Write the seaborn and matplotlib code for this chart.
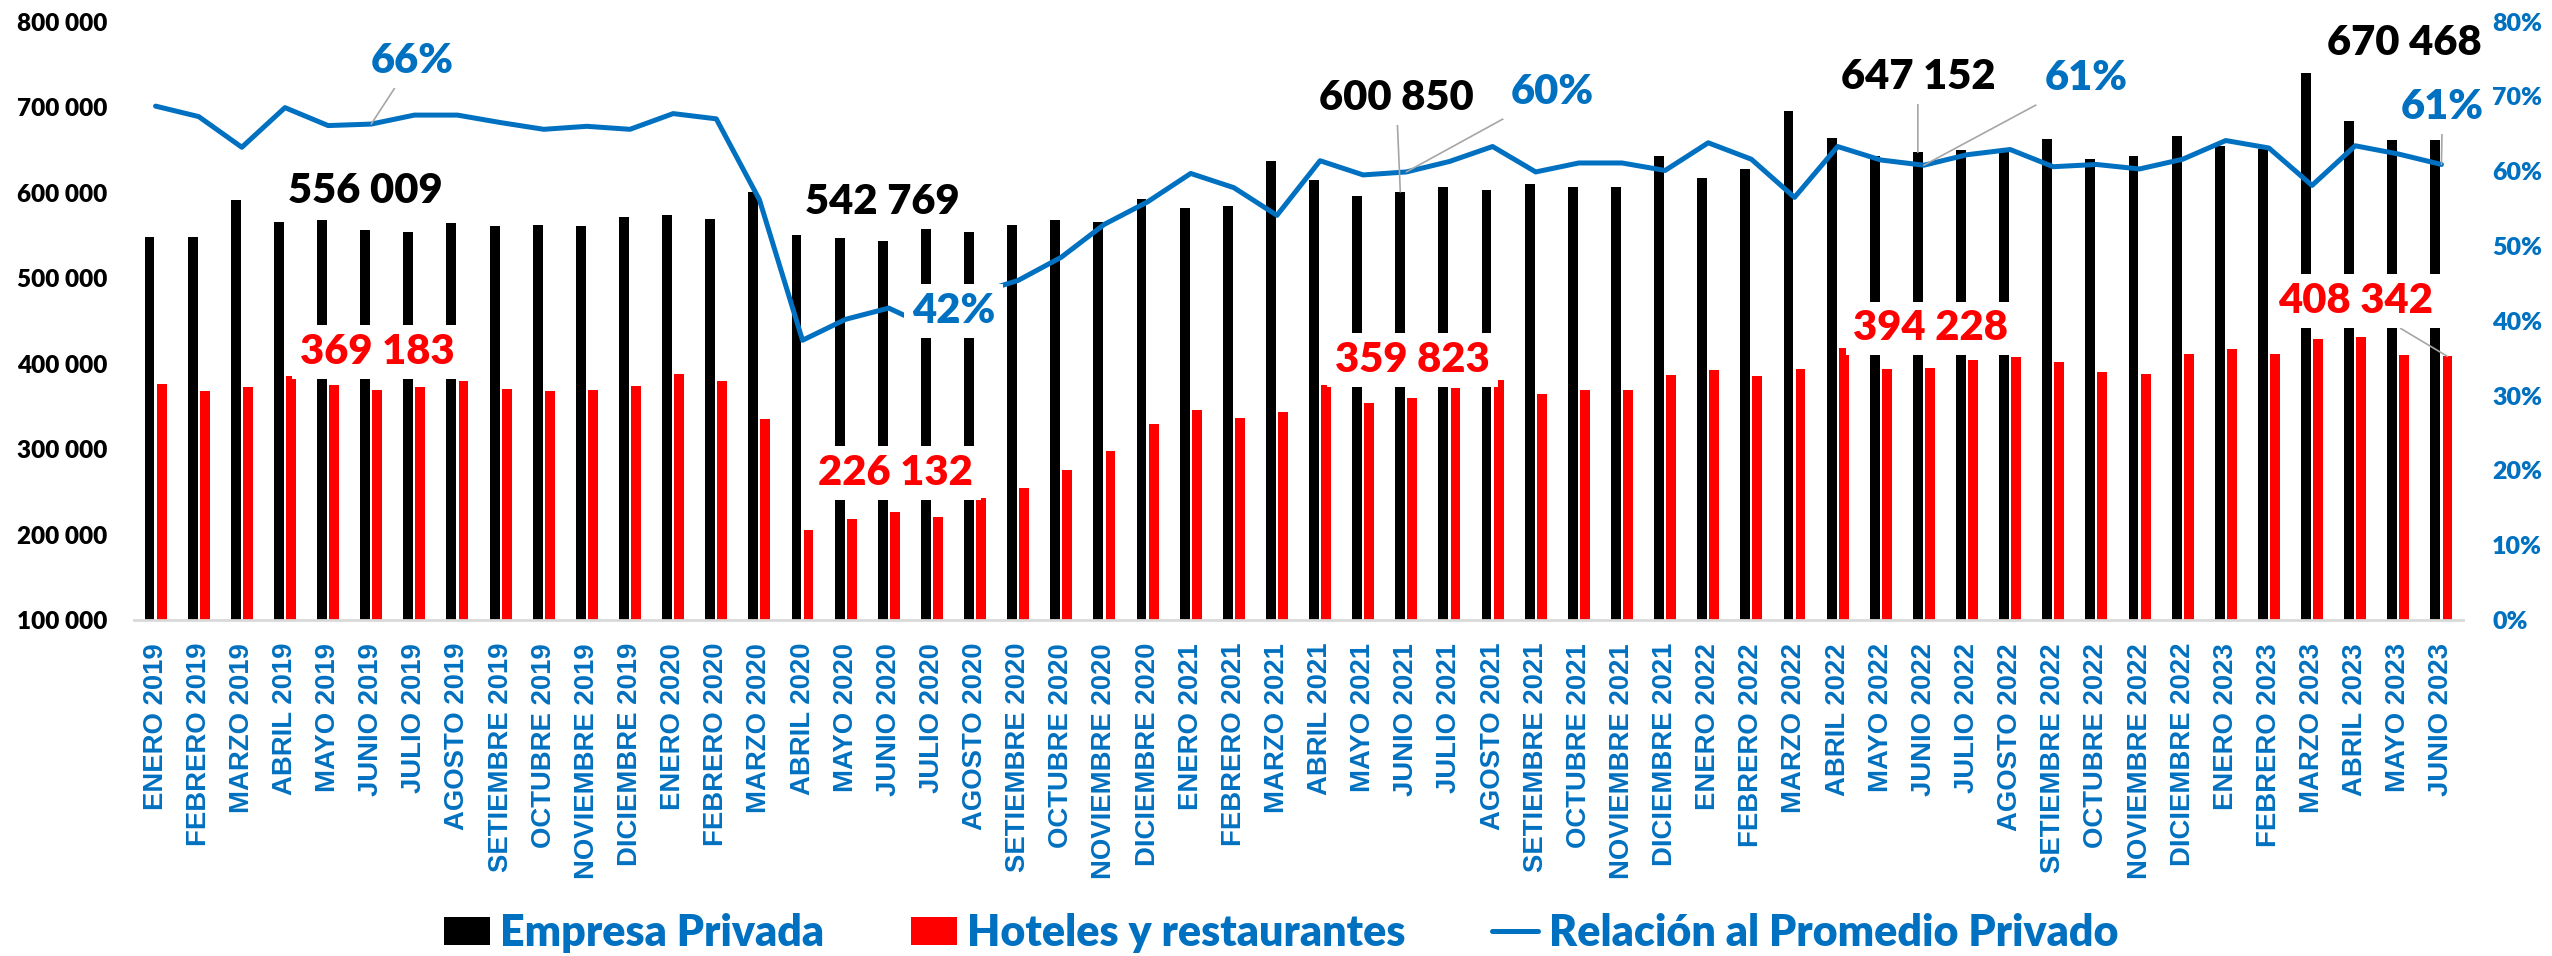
import numpy as np
import pandas as pd
import matplotlib
matplotlib.use("Agg")
import matplotlib.pyplot as plt
from matplotlib import font_manager as fm
from matplotlib.patches import Patch
from matplotlib.lines import Line2D
import seaborn as sns

# ---------------- data ----------------
meses_nombres = ["ENERO", "FEBRERO", "MARZO", "ABRIL", "MAYO", "JUNIO", "JULIO",
                 "AGOSTO", "SETIEMBRE", "OCTUBRE", "NOVIEMBRE", "DICIEMBRE"]
meses = [f"{m} {a}" for a in (2019, 2020, 2021, 2022) for m in meses_nombres] + \
        [f"{m} 2023" for m in meses_nombres[:6]]

empresa_privada = [
    547600, 547600, 590800, 565300, 568400, 556009, 553800, 564400, 561300, 562200, 561300, 571400,
    574100, 569200, 600500, 550300, 547200, 542769, 557300, 553800, 562600, 567900, 565300, 592100,
    581600, 584200, 636600, 614200, 595700, 600850, 606700, 603200, 610200, 606700, 606700, 642800,
    616800, 627400, 695700, 663900, 642400, 647152, 650300, 651200, 662600, 639700, 643200, 666100,
    654300, 650700, 739700, 683500, 661900, 661900,
]
hoteles_restaurantes = [
    375800, 367400, 372700, 385900, 374900, 369183, 372700, 379300, 370500, 367900, 369600, 374000,
    387200, 379800, 334800, 205700, 217600, 226132, 220300, 242700, 254600, 274900, 297400, 329100,
    345800, 336600, 343600, 375400, 353300, 359823, 371500, 380600, 364300, 369600, 369200, 386800,
    392500, 385500, 393900, 418100, 393900, 394228, 404500, 407500, 401350, 389900, 387250, 410600,
    416800, 410600, 429100, 430900, 410500, 408342,
]
relacion_pct = [
    68.7, 67.3, 63.2, 68.5, 66.1, 66.3, 67.5, 67.5, 66.5, 65.6, 66.0, 65.6,
    67.7, 67.0, 56.2, 37.4, 40.2, 41.7, 39.0, 43.6, 45.4, 48.5, 52.9, 55.9,
    59.7, 57.8, 54.1, 61.4, 59.5, 59.9, 61.3, 63.3, 59.9, 61.1, 61.1, 60.1,
    63.8, 61.6, 56.5, 63.3, 61.5, 60.8, 62.2, 62.9, 60.6, 60.9, 60.3, 61.6,
    64.1, 63.1, 58.1, 63.4, 62.3, 60.9,
]
# labelled months (JUNIO of each year) and their label texts
idx_etiquetas = [5, 17, 29, 41, 53]
etiquetas_empresa = ["556 009", "542 769", "600 850", "647 152", "670 468"]
etiquetas_hoteles = ["369 183", "226 132", "359 823", "394 228", "408 342"]
etiquetas_relacion = ["66%", "42%", "60%", "61%", "61%"]

series = ["Empresa Privada", "Hoteles y restaurantes", "Relación al Promedio Privado"]
y_ticks_left = list(range(100000, 800001, 100000))
y_ticks_right = list(range(0, 81, 10))

# ---------------- style ----------------
BLACK, RED, BLUE, GRAY = "#000000", "#FF0000", "#0070C0", "#A6A6A6"

sns.set_style("white")
names = {f.name for f in fm.fontManager.ttflist}
MAIN = "Lato" if "Lato" in names else "Open Sans"
TICKF = "Liberation Sans" if "Liberation Sans" in names else "DejaVu Sans"
plt.rcParams["font.family"] = [MAIN, "DejaVu Sans"]

W, H = 2552, 956
fig = plt.figure(figsize=(W / 100, H / 100), dpi=100)
ax_l, ax_r, ax_t, ax_b = 134, 2463, 21.6, 620
ax = fig.add_axes([ax_l / W, 1 - ax_b / H, (ax_r - ax_l) / W, (ax_b - ax_t) / H])

df = pd.DataFrame({
    "mes": meses * 2,
    "valor": empresa_privada + hoteles_restaurantes,
    "serie": [series[0]] * len(meses) + [series[1]] * len(meses),
})
sns.barplot(data=df, x="mes", y="valor", hue="serie", order=meses,
            hue_order=series[:2], palette=[BLACK, RED], saturation=1,
            width=0.56, gap=0.18, linewidth=0, errorbar=None, legend=False, ax=ax)

ax2 = ax.twinx()
sns.lineplot(x=np.arange(len(meses)), y=relacion_pct, ax=ax2, color=BLUE,
             linewidth=3.6, legend=False)

ax.set_xlim(-0.5, len(meses) - 0.5)
ax.set_ylim(100000, 800000)
ax2.set_ylim(0, 80)
for a in (ax, ax2):
    a.set_xlabel("")
    a.set_ylabel("")

ax.set_yticks(y_ticks_left)
ax.set_yticklabels([f"{v:,}".replace(",", " ") for v in y_ticks_left])
ax2.set_yticks(y_ticks_right)
ax2.set_yticklabels([f"{v}%" for v in y_ticks_right])
ax.set_xticks(range(len(meses)))
ax.set_xticklabels(meses)
ax.tick_params(axis="x", length=0, pad=16.5, labelrotation=90,
               labelsize=19.8, labelcolor=BLUE)
ax2.tick_params(axis="x", length=0, labelbottom=False)
ax.tick_params(axis="y", length=0, pad=19.4, labelsize=17.5, labelcolor=BLACK)
ax2.tick_params(axis="y", length=0, pad=21, labelsize=18, labelcolor=BLUE)

for a in (ax, ax2):
    for s in ("top", "left", "right"):
        a.spines[s].set_visible(False)
    a.grid(False)
ax2.spines["bottom"].set_visible(False)
ax.spines["bottom"].set_color("#D9D9D9")
ax.spines["bottom"].set_linewidth(2)

# ---------------- data labels ----------------
lab_font = dict(fontfamily=MAIN, fontweight="heavy", fontsize=30)
box = dict(boxstyle="square,pad=0.19", facecolor="white", edgecolor="none")
lead = dict(arrowstyle="-", color=GRAY, lw=1.2, shrinkA=0, shrinkB=0)

emp_off = [(0, 39), (0, 39), (-4, 94), (0, 75), (-31, 97)]
emp_lead = [False, False, True, True, False]
hot_off = [(0, 38), (1, 39), (0, 38), (1, 40), (-92, 55)]
hot_lead = [False, False, False, False, True]
rel_off = [(41, 63), (65, -3), (146, 80), (162, 87), (1, 57)]
rel_lead = [True, False, True, True, True]

for k, i in enumerate(idx_etiquetas):
    ax2.annotate(etiquetas_empresa[k], xy=(i - 0.14, empresa_privada[i]),
                 xycoords=ax.transData, xytext=emp_off[k], textcoords="offset pixels",
                 ha="center", va="center", color=BLACK, bbox=box, zorder=6,
                 arrowprops=lead if emp_lead[k] else None, annotation_clip=False, **lab_font)
    ax2.annotate(etiquetas_hoteles[k], xy=(i + 0.14, hoteles_restaurantes[i]),
                 xycoords=ax.transData, xytext=hot_off[k], textcoords="offset pixels",
                 ha="center", va="center", color=RED, bbox=box, zorder=6,
                 arrowprops=lead if hot_lead[k] else None, annotation_clip=False, **lab_font)
    ax2.annotate(etiquetas_relacion[k], xy=(i, relacion_pct[i]),
                 xycoords=ax2.transData, xytext=rel_off[k], textcoords="offset pixels",
                 ha="center", va="center", color=BLUE, bbox=box, zorder=6,
                 arrowprops=lead if rel_lead[k] else None, annotation_clip=False, **lab_font)

# ---------------- legend ----------------
handles = [Patch(facecolor=BLACK, edgecolor="none"),
           Patch(facecolor=RED, edgecolor="none"),
           Line2D([0], [0], color=BLUE, lw=3.6)]
fig.legend(handles, series, loc="center", bbox_to_anchor=(1281 / W, 23 / H),
           ncol=3, frameon=False, labelcolor=BLUE,
           prop=fm.FontProperties(family=MAIN, weight="heavy", size=31),
           handlelength=1.07, handleheight=0.63, handletextpad=0.25, columnspacing=2.0)

# apply tick-label fonts to the tick objects that are actually drawn
fig.canvas.draw()
for lbl in ax.get_xticklabels():
    lbl.set_fontfamily(TICKF)
    lbl.set_fontweight("bold")
    lbl.set_fontsize(19.8)
for lbl in ax.get_yticklabels() + ax2.get_yticklabels():
    lbl.set_fontfamily(MAIN)
    lbl.set_fontweight("heavy")

fig.savefig("out.png", dpi=100)
